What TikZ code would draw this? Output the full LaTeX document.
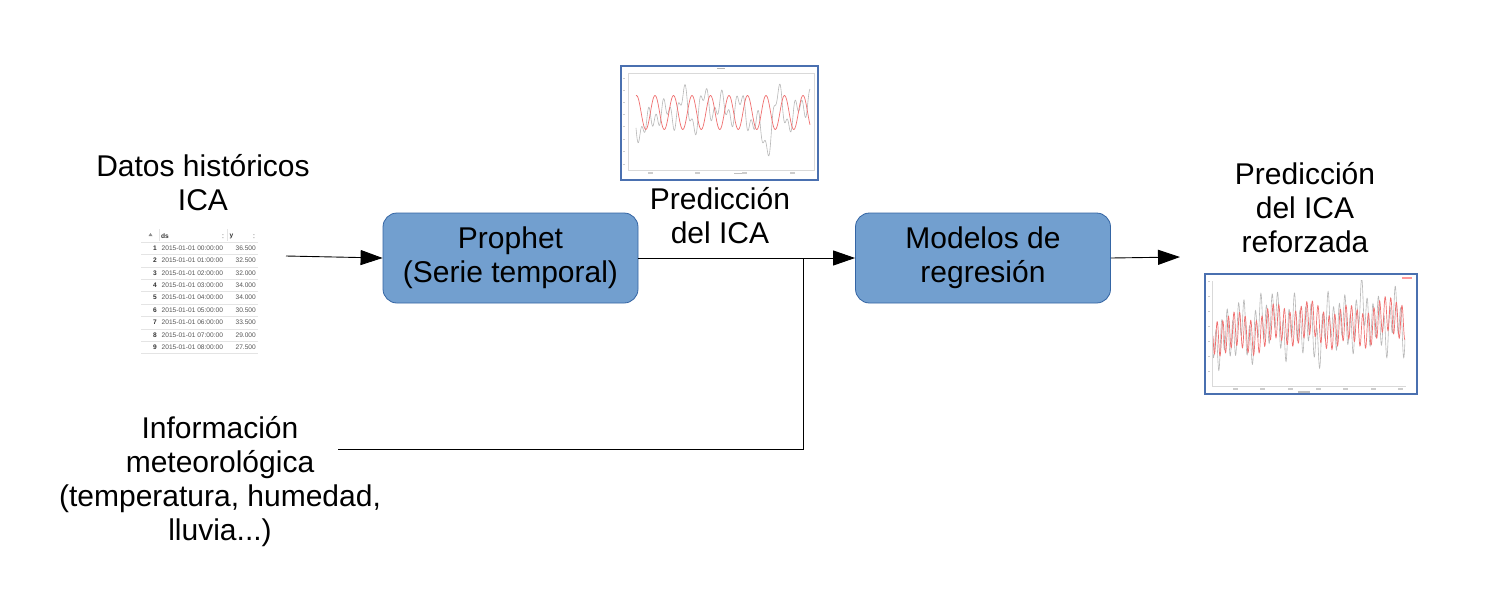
\documentclass[tikz,border=0pt]{standalone}
\usepackage{fontspec}
\setmainfont{Liberation Sans}
\usetikzlibrary{arrows.meta}
\definecolor{boxfill}{HTML}{729FCF}
\definecolor{boxline}{HTML}{3465A4}
\definecolor{frameblue}{HTML}{4A70B0}
\definecolor{tabline}{HTML}{E4E4E4}
\definecolor{tabtext}{HTML}{555555}
\definecolor{plotred}{HTML}{F07070}
\definecolor{plotgray}{HTML}{B8B8B8}
\begin{document}
\begin{tikzpicture}[x=1pt,y=-1pt,
  lbl/.style={align=center,font=\fontsize{30}{34}\selectfont,inner sep=0pt},
  procbox/.style={draw=boxline,fill=boxfill,rounded corners=14pt,minimum width=255pt,minimum height=90pt,line width=0.8pt,align=center,font=\fontsize{30}{34}\selectfont,inner sep=0pt},
  conn/.style={line width=0.9pt,draw=black},
  tip/.style={-{Triangle[length=22pt,width=15pt]}},
  tabtxt/.style={font=\fontsize{6.6}{7}\selectfont,text=tabtext,inner sep=0pt},
  tabbold/.style={font=\fontsize{6.6}{7}\selectfont\bfseries,text=black!80,inner sep=0pt},
  chartframe/.style={draw=frameblue,line width=1.3pt,fill=white},
  plotarea/.style={draw=black!15,line width=0.6pt}]
\useasboundingbox[fill=white] (0,0) rectangle (1488,614);

% process boxes
\node[procbox] (prophet) at (510.5,258) {Prophet\\(Serie temporal)};
\node[procbox] (modelos) at (983,258) {Modelos de\\regresión};

% labels
\node[lbl] (datos) at (203,183) {Datos históricos\\ICA};
\node[lbl] (info) at (220,482) {Información\\meteorológica\\(temperatura, humedad,\\lluvia...)};
\node[lbl] (pred) at (720,216) {Predicción\\del ICA};
\node[lbl] (predr) at (1305,208) {Predicción\\del ICA\\reforzada};

% connectors
\coordinate (in) at (286,256);
\coordinate (met) at (338,449);
\coordinate (junc) at (803,258);
\coordinate (out) at (1180,257);
\draw[conn,tip] (in) -- (prophet.west);
\draw[conn,tip] (prophet.east) -- (modelos.west);
\draw[conn] (met) -| (junc);
\draw[conn,tip] (modelos.east) -- (out);

% ---- table image ----
\fill[white] (141,228) rectangle (258,354);
\foreach \k in {0,...,9} {\draw[tabline,line width=0.6pt] (141,{242+12.4*\k}) -- (258,{242+12.4*\k});}
\draw[tabline,line width=0.6pt] (227,229) -- (227,241);
\draw[tabline,line width=0.6pt] (159,229) -- (159,241);
\fill[black!45] (148.5,236) -- (150.5,233) -- (152.5,236) -- cycle;
\node[tabbold,anchor=west] (hds) at (161,236) {ds};
\node[tabbold,anchor=west] (hy) at (229.5,236.5) {y};
\fill[black!20] (222,234) rectangle (223.5,235) (222,237) rectangle (223.5,238);
\fill[black!20] (253,234) rectangle (254.5,235) (253,237) rectangle (254.5,238);
\foreach \n/\h/\v in {1/00/36.500,2/01/32.500,3/02/32.000,4/03/34.000,5/04/34.000,6/05/30.500,7/06/33.500,8/07/29.000,9/08/27.500} {
  \node[tabbold,anchor=east] (rn\n) at (157,{248+12.4*(\n-1)}) {\n};
  \node[tabtxt,anchor=west] (rd\n) at (161.5,{248+12.4*(\n-1)}) {2015-01-01 \h:00:00};
  \node[tabtxt,anchor=east] (rv\n) at (256,{248+12.4*(\n-1)}) {\v};
}

% ---- chart 1 ----
\draw[chartframe] (621,66) rectangle (818,180);
\draw[plotarea] (628,73) rectangle (814,170);
\fill[black!30] (717,67.5) rectangle (725,69);
\fill[black!25] (734,172.5) rectangle (746,174);
\foreach \xx in {648,695,742,790} {\fill[black!20] (\xx,172) rectangle ({\xx+5},173.5);}
\foreach \yy in {78,90,102,114,126,139,151,164} {\fill[black!20] (622.5,\yy) rectangle (625,{\yy+1});}
\begin{scope}
\clip (629,74) rectangle (813,169);
\begin{scope}[shift={(636,0)}]
\draw[plotgray,line width=0.6pt] plot[domain=0:174,samples=500,smooth]
  (\x,{113+12*sin(\x*19.46+35)+11*sin(\x*7.7+20)*sin(\x*2.3)+8*sin(\x*49.3)+9*sin(\x*3.1+60)+14*sin(\x*13.1+10)*sin(\x*1.7+30)^3});
\draw[plotred,line width=0.7pt] plot[domain=0:174,samples=400,smooth]
  (\x,{112.5-17*sin(\x*19.46+80)});
\end{scope}
\end{scope}

% ---- chart 2 ----
\draw[chartframe] (1205,274) rectangle (1417,394);
\draw[black!15,line width=0.6pt] (1212,281) -- (1212,386) -- (1406,386);
\foreach \xx in {1233,1260,1288,1316,1343,1371,1398} {\fill[black!20] (\xx,388) rectangle ({\xx+5},389.5);}
\fill[black!25] (1298,391) rectangle (1310,392.5);
\fill[red!40] (1402,277) rectangle (1412,278.5);
\foreach \yy in {281,296,311,326,341,356,371} {\fill[black!20] (1207.5,\yy) rectangle (1210,{\yy+1});}
\begin{scope}
\clip (1213,280) rectangle (1405,385);
\begin{scope}[shift={(1213,0)}]
\draw[plotgray,line width=0.6pt] plot[domain=0:192,samples=900]
  (\x,{330-0.05*\x+20*sin(\x*64.3+70)+12*sin(\x*21.2+10)+8*sin(\x*11.3)+6*sin(\x*4.1+30)});
\draw[plotred,line width=0.7pt] plot[domain=0:192,samples=900]
  (\x,{332-0.06*\x+17*sin(\x*64.3)+6*sin(\x*9.7+40)+4*sin(\x*3.3)});
\end{scope}
\end{scope}
\end{tikzpicture}
\end{document}
